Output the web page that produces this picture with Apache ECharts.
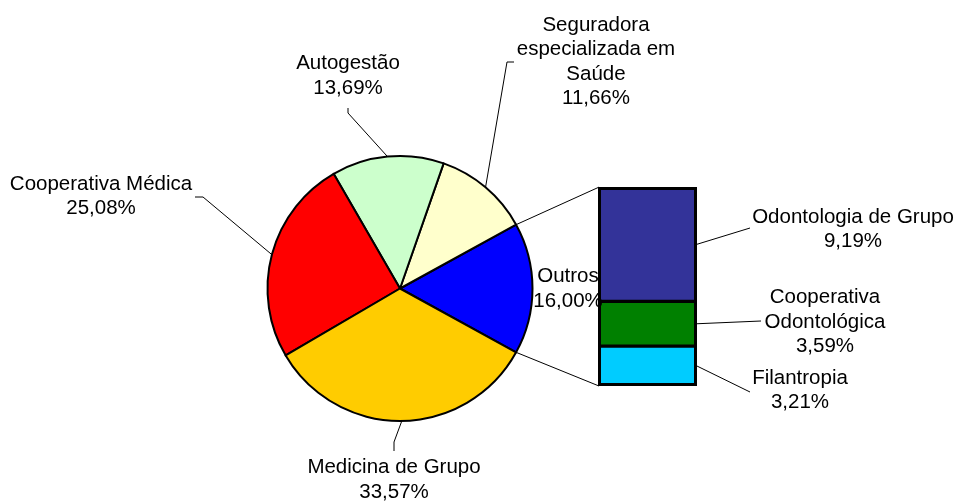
<!DOCTYPE html>
<html>
<head>
<meta charset="utf-8">
<script src="https://cdn.jsdelivr.net/npm/echarts@6/dist/echarts.min.js"></script>
<style>
  html, body { margin: 0; padding: 0; background: #fff; }
  #chart { width: 959px; height: 502px; }
</style>
</head>
<body>
<div id="chart"></div>
<script>
// Market share by type of health plan operator (%)
const pieNames = ['Outros', 'Seguradora\nespecializada em\nSaúde', 'Autogestão', 'Cooperativa Médica', 'Medicina de Grupo'];
const pieValues = [16.00, 11.66, 13.69, 25.08, 33.57];
const pieColors = ['#0000FF', '#FFFFCC', '#CCFFCC', '#FF0000', '#FFCC00'];

// Breakdown of "Outros", stacked from bottom to top
const barNames = ['Filantropia', 'Cooperativa\nOdontológica', 'Odontologia de Grupo'];
const barValues = [3.21, 3.59, 9.19];
const barColors = ['#00CCFF', '#008000', '#333399'];

const FONT = { fontFamily: 'Liberation Sans, Arial, sans-serif', fontSize: 20.5, lineHeight: 24.5, color: '#000' };

// Pie geometry
const CX = 400, CY = 288.5, R = 132.5;
const pieTotal = pieValues.reduce((a, b) => a + b, 0);
// the split slice is centred on the right-hand side
const START = -pieValues[0] / pieTotal * 180;

// Bar geometry
const BAR = { left: 598, top: 187, width: 99, height: 199 };
const barTotal = barValues.reduce((a, b) => a + b, 0);

function fmt(v) { return v.toFixed(2).replace('.', ',') + '%'; }

function sliceAngles(i) {
  let acc = 0;
  for (let k = 0; k < i; k++) acc += pieValues[k];
  const a0 = START + acc / pieTotal * 360;
  const a1 = a0 + pieValues[i] / pieTotal * 360;
  return [a0, a1];
}
function edgeAt(deg) {
  const t = deg * Math.PI / 180;
  return [CX + R * Math.cos(t), CY - R * Math.sin(t)];
}

// Label anchors (centre of text block) and leader-line elbows
const pieLabelPos = [
  { x: 568, y: 289 },
  { x: 596, y: 62,    line: [[507, 62], [514, 62]] },
  { x: 348, y: 76,    line: [[348, 113], [348, 108]] },
  { x: 101, y: 196.5, line: [[203, 197], [195, 197]] },
  { x: 394, y: 480,   line: [[394, 442], [394, 451]] }
];
const barLabelPos = [
  { x: 800, y: 390.5, end: [750, 392] },
  { x: 825, y: 322,   end: [761, 321] },
  { x: 853, y: 229.5, end: [750, 228] }
];

const chart = echarts.init(document.getElementById('chart'), null, { renderer: 'canvas' });

const barSeries = barValues.map((v, i) => ({
  type: 'bar',
  name: barNames[i],
  stack: 'outros',
  barWidth: '100%',
  data: [v],
  itemStyle: { color: barColors[i], borderColor: '#000', borderWidth: 1.6 },
  label: {
    show: true,
    position: 'inside',
    formatter: () => barNames[i] + '\n' + fmt(v),
    ...FONT
  },
  labelLayout: () => ({ x: barLabelPos[i].x, y: barLabelPos[i].y, align: 'center', verticalAlign: 'middle' }),
  silent: true
}));

// outline around the whole column
barSeries.push({
  type: 'bar',
  name: 'Outros',
  barWidth: '100%',
  barGap: '-100%',
  data: [barTotal],
  itemStyle: { color: 'rgba(0,0,0,0)', borderColor: '#000', borderWidth: 3 },
  silent: true
});

chart.setOption({
  animation: false,
  backgroundColor: '#fff',
  // dark plot background so the seams between stacked segments read as one divider line
  grid: [{ left: BAR.left, top: BAR.top, width: BAR.width, height: BAR.height, show: true, backgroundColor: '#000', borderWidth: 0 }],
  xAxis: [{ type: 'category', data: ['Outros'], show: false }],
  yAxis: [{ type: 'value', min: 0, max: 16, show: false }],
  series: [
    {
      type: 'pie',
      center: [CX, CY],
      radius: R,
      startAngle: START,
      clockwise: false,
      avoidLabelOverlap: false,
      silent: true,
      itemStyle: { borderColor: '#000', borderWidth: 2 },
      label: {
        show: true,
        position: 'outside',
        formatter: p => p.name + '\n' + fmt(p.value),
        ...FONT
      },
      labelLine: { show: true, lineStyle: { color: '#000', width: 1 } },
      labelLayout: p => {
        const pos = pieLabelPos[p.dataIndex];
        const out = { x: pos.x, y: pos.y, align: 'center', verticalAlign: 'middle' };
        if (pos.line) {
          const a = sliceAngles(p.dataIndex);
          out.labelLinePoints = [edgeAt((a[0] + a[1]) / 2), pos.line[0], pos.line[1]];
        }
        return out;
      },
      data: pieValues.map((v, i) => ({
        name: pieNames[i],
        value: v,
        itemStyle: { color: pieColors[i] },
        labelLine: { show: i !== 0 }
      }))
    },
    ...barSeries
  ]
});

// Connector lines (pie split slice -> column) and column leader lines
const outrosAngles = sliceAngles(0);
const topLeft = chart.convertToPixel({ gridIndex: 0 }, [0, barTotal]);
const botLeft = chart.convertToPixel({ gridIndex: 0 }, [0, 0]);
const barRight = BAR.left + BAR.width;
const graphics = [
  { type: 'polyline', shape: { points: [edgeAt(outrosAngles[1]), [BAR.left + 1, topLeft[1]]] } },
  { type: 'polyline', shape: { points: [edgeAt(outrosAngles[0]), [BAR.left + 1, botLeft[1]]] } }
];
let acc = 0;
barValues.forEach((v, i) => {
  const mid = chart.convertToPixel({ gridIndex: 0 }, [0, acc + v / 2]);
  acc += v;
  graphics.push({ type: 'polyline', shape: { points: [[barRight, mid[1]], barLabelPos[i].end] } });
});
chart.setOption({
  graphic: graphics.map(g => Object.assign(g, { silent: true, z: 0, style: { stroke: '#000', lineWidth: 1, fill: null } }))
});
</script>
</body>
</html>
